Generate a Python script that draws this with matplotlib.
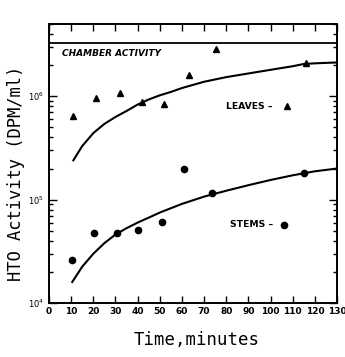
import matplotlib
matplotlib.use("Agg")
import matplotlib.pyplot as plt
from matplotlib.ticker import LogLocator, NullFormatter, FixedLocator

# leaves (triangles)
leaves_t = [11, 21, 32, 42, 52, 63, 75.5, 116]
leaves_v = [6.4e5, 9.6e5, 1.07e6, 8.8e5, 8.5e5, 1.6e6, 2.83e6, 2.1e6]

# stems (circles)
stems_t = [10.3, 20.5, 30.8, 40.3, 50.8, 61, 73.5, 115.3]
stems_v = [2.6e4, 4.8e4, 4.8e4, 5.1e4, 6.1e4, 1.97e5, 1.16e5, 1.82e5]

# fitted curves
leaves_fit_t = [11, 15, 20, 25, 30, 35, 40, 45, 50, 55, 60, 70, 80, 90, 100, 110, 115, 120, 130]
leaves_fit_v = [2.4e5, 3.3e5, 4.4e5, 5.4e5, 6.3e5, 7.2e5, 8.3e5, 9.3e5, 1.02e6, 1.1e6,
                1.2e6, 1.38e6, 1.53e6, 1.66e6, 1.8e6, 1.95e6, 2.05e6, 2.08e6, 2.12e6]
stems_fit_t = [10.5, 15, 20, 25, 30, 35, 40, 45, 50, 60, 70, 80, 90, 100, 110, 120, 130]
stems_fit_v = [1.6e4, 2.25e4, 3.0e4, 3.8e4, 4.6e4, 5.3e4, 6.0e4, 6.7e4, 7.5e4, 9.1e4,
               1.07e5, 1.22e5, 1.38e5, 1.55e5, 1.72e5, 1.88e5, 2.0e5]

chamber_level = 3.25e6
x_ticks = list(range(0, 131, 10))

fig = plt.figure(figsize=(3.45, 3.57), dpi=100)
ax = fig.add_axes([0.142, 0.151, 0.835, 0.782])

ax.plot(leaves_fit_t, leaves_fit_v, color="black", lw=1.5)
ax.plot(stems_fit_t, stems_fit_v, color="black", lw=1.5)
ax.plot(leaves_t, leaves_v, "^", color="black", ms=5)
ax.plot(stems_t, stems_v, "o", color="black", ms=4.5)
ax.axhline(chamber_level, color="black", lw=1.3)

ax.set_yscale("log")
ax.set_xlim(0, 130)
ax.set_ylim(1e4, 5e6)

ax.xaxis.set_major_locator(FixedLocator(x_ticks))
ax.set_xticklabels([str(t) for t in x_ticks], fontsize=6.5, fontweight="bold")
ax.yaxis.set_major_locator(LogLocator(base=10, numticks=10))
ax.yaxis.set_minor_locator(LogLocator(base=10, subs=range(2, 10), numticks=10))
ax.yaxis.set_minor_formatter(NullFormatter())
ax.tick_params(axis="both", which="both", direction="in", top=True, right=True)
ax.tick_params(axis="x", which="major", length=5, width=1, pad=2.5)
ax.tick_params(axis="y", which="major", length=6, width=1, labelsize=6)
ax.tick_params(axis="y", which="minor", length=3, width=1)
for s in ax.spines.values():
    s.set_linewidth(1.4)

ax.text(0.045, 0.895, "CHAMBER ACTIVITY", transform=ax.transAxes, fontsize=6.5,
        fontweight="bold", fontstyle="italic", va="center")
ax.text(0.615, 0.705, "LEAVES \u2013", transform=ax.transAxes, fontsize=6.7,
        fontweight="bold", va="center")
ax.plot([0.825], [0.705], "^", color="black", ms=5, transform=ax.transAxes)
ax.text(0.63, 0.28, "STEMS \u2013", transform=ax.transAxes, fontsize=6.7,
        fontweight="bold", va="center")
ax.plot([0.815], [0.28], "o", color="black", ms=4.5, transform=ax.transAxes)

fig.text(0.045, 0.515, "HTO Activity (DPM/ml)", family="DejaVu Sans Mono", fontsize=12.3,
         rotation=90, ha="center", va="center")
fig.text(0.57, 0.048, "Time,minutes", family="DejaVu Sans Mono", fontsize=12.5,
         ha="center", va="center")

fig.savefig("out.png", dpi=100)
